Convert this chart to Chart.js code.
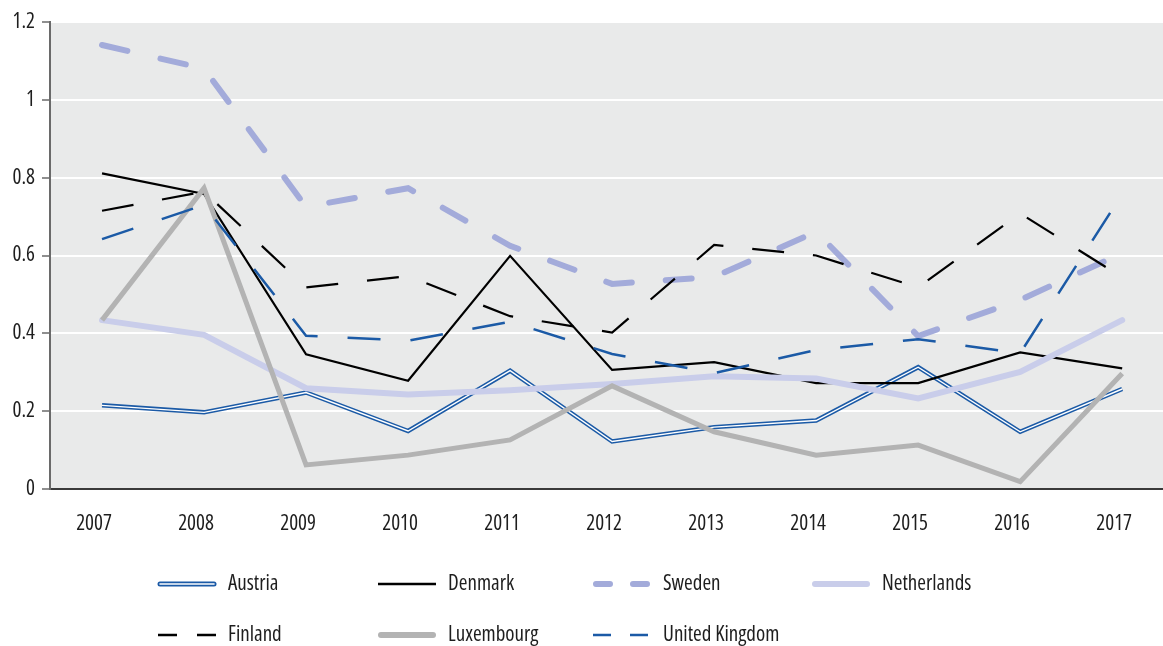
<!DOCTYPE html>
<html>
<head>
<meta charset="utf-8">
<script src="https://cdn.jsdelivr.net/npm/chart.js@4/dist/chart.umd.min.js"></script>
<style>
  html, body { margin: 0; padding: 0; background: #ffffff; }
  #chart { display: block; }
</style>
</head>
<body>
<canvas id="chart" width="1163" height="646"></canvas>
<script>
// Years on the horizontal axis
const years = [2007, 2008, 2009, 2010, 2011, 2012, 2013, 2014, 2015, 2016, 2017];

// Values per country
const austria     = [0.215, 0.197, 0.248, 0.149, 0.304, 0.122, 0.159, 0.176, 0.313, 0.147, 0.257];
const denmark     = [0.811, 0.758, 0.346, 0.278, 0.599, 0.306, 0.326, 0.272, 0.272, 0.351, 0.310];
const sweden      = [1.141, 1.080, 0.725, 0.773, 0.625, 0.527, 0.545, 0.661, 0.393, 0.486, 0.606];
const netherlands = [0.434, 0.396, 0.259, 0.243, 0.254, 0.270, 0.290, 0.284, 0.233, 0.301, 0.434];
const finland     = [0.715, 0.764, 0.518, 0.547, 0.444, 0.402, 0.627, 0.600, 0.518, 0.708, 0.544];
const luxembourg  = [0.434, 0.773, 0.062, 0.087, 0.126, 0.265, 0.147, 0.087, 0.113, 0.019, 0.297];
const unitedKingdom = [0.642, 0.730, 0.394, 0.381, 0.430, 0.347, 0.298, 0.357, 0.385, 0.349, 0.758];

// Value axis ticks
const yTicks = [0, 0.2, 0.4, 0.6, 0.8, 1.0, 1.2];

// Pick the narrowest installed sans face for the condensed lettering
const probe = document.createElement('canvas').getContext('2d');
function textWidth(font, s) { probe.font = font; return probe.measureText(s).width; }
const SAMPLE = 'United Kingdom 2007';
function installed(fam) {
  const s = 'mmmWWiil0123 United';
  return textWidth('40px monospace', s) !== textWidth('40px ' + fam + ', monospace', s) ||
         textWidth('40px serif', s) !== textWidth('40px ' + fam + ', serif', s);
}
const candidates = [
  { fam: "'Liberation Sans Narrow'", st: '' },
  { fam: "'Roboto Condensed'", st: '' },
  { fam: "'Noto Sans'", st: 'extra-condensed' },
  { fam: "'Noto Sans'", st: 'condensed' },
  { fam: "'Open Sans'", st: 'condensed' },
  { fam: "'Roboto'", st: 'condensed' },
  { fam: "'DejaVu Sans'", st: 'condensed' },
  { fam: "'DejaVu Sans Condensed'", st: '' }
];
let best = null;
candidates.forEach(c => {
  if (!installed(c.fam)) return;
  const plain = textWidth('20px ' + c.fam, SAMPLE);
  const w = textWidth('normal ' + (c.st || 'normal') + ' 20px ' + c.fam, SAMPLE);
  if (c.st && w > plain * 0.97) return;
  if (!best || w < best.w - 0.5) best = { ...c, w };
});
if (!best) best = { fam: 'sans-serif', st: '', w: textWidth('20px sans-serif', SAMPLE) };
const FONT_FAMILY = best.fam + ', sans-serif';
const FONT_WEIGHT = best.st || 'normal';
// "United Kingdom 2007" is about 163px wide in the target lettering
const FONT_SIZE = Math.max(17, Math.min(21, Math.round(20 * 163 / best.w * 2) / 2));
const FONT_STR = 'normal ' + FONT_WEIGHT + ' ' + FONT_SIZE + 'px ' + FONT_FAMILY;
const TEXT = '#1e1e1e';

const pts = arr => years.map((y, i) => ({ x: y, y: arr[i] }));

const BLUE = '#1b5aa6';
const SWEDEN_C = '#a3abda';
const NETH_C = '#c9cdea';
const LUX_C = '#b3b3b3';

// Series: later entries are drawn on top (lower order value)
const datasets = [
  { label: 'Austria', data: pts(austria), borderColor: BLUE, borderWidth: 4.5,
    order: 0, legend: { kind: 'double', col: 0, row: 0 } },
  { label: 'Austria-inner', data: pts(austria), borderColor: '#ffffff', borderWidth: 1.4,
    order: -0.5, legend: null },
  { label: 'Denmark', data: pts(denmark), borderColor: '#000000', borderWidth: 2.2,
    order: -1, legend: { kind: 'solid', col: 1, row: 0, width: 2.5 } },
  { label: 'Sweden', data: pts(sweden), borderColor: SWEDEN_C, borderWidth: 6,
    borderDash: [26, 34], borderCapStyle: 'round',
    order: -2, legend: { kind: 'dash', col: 2, row: 0, width: 6, dash: [14, 23], cap: 'round', inset: 3 } },
  { label: 'Netherlands', data: pts(netherlands), borderColor: NETH_C, borderWidth: 6,
    borderCapStyle: 'round',
    order: -3, legend: { kind: 'solid', col: 3, row: 0, width: 6, cap: 'round', inset: 3 } },
  { label: 'Finland', data: pts(finland), borderColor: '#000000', borderWidth: 2.2,
    borderDash: [32, 29],
    order: -4, legend: { kind: 'dash', col: 0, row: 1, width: 2.5, dash: [19, 20] } },
  { label: 'Luxembourg', data: pts(luxembourg), borderColor: LUX_C, borderWidth: 5,
    order: -5, legend: { kind: 'solid', col: 1, row: 1, width: 6, cap: 'round', inset: 3 } },
  { label: 'United Kingdom', data: pts(unitedKingdom), borderColor: BLUE, borderWidth: 2.5,
    borderDash: [33, 30],
    order: -6, legend: { kind: 'dash', col: 2, row: 1, width: 2.5, dash: [18, 19] } }
];

// Fills the plotting area with the light grey panel
const panelBackground = {
  id: 'panelBackground',
  beforeDraw(chart) {
    const { ctx, chartArea: a } = chart;
    ctx.save();
    ctx.fillStyle = '#e9eaea';
    ctx.fillRect(a.left, a.top, a.right - a.left, a.bottom - a.top);
    ctx.restore();
  }
};

// Fixed-grid legend under the chart
const gridLegend = {
  id: 'gridLegend',
  afterDraw(chart) {
    const { ctx } = chart;
    const colX = [158, 378, 593, 812];
    const rowY = [584, 635];
    const sampleW = 58;
    ctx.save();
    chart.data.datasets.forEach(ds => {
      const lg = ds.legend;
      if (!lg) return;
      const x0 = colX[lg.col];
      const y = rowY[lg.row];
      const inset = lg.inset || 0;
      ctx.setLineDash([]);
      if (lg.kind === 'double') {
        ctx.lineCap = 'round';
        ctx.strokeStyle = ds.borderColor;
        ctx.lineWidth = 5;
        ctx.beginPath(); ctx.moveTo(x0 + 2, y); ctx.lineTo(x0 + sampleW - 2, y); ctx.stroke();
        ctx.strokeStyle = '#ffffff';
        ctx.lineWidth = 1.6;
        ctx.beginPath(); ctx.moveTo(x0 + 2, y); ctx.lineTo(x0 + sampleW - 2, y); ctx.stroke();
      } else {
        ctx.lineCap = lg.cap || 'butt';
        ctx.strokeStyle = ds.borderColor;
        ctx.lineWidth = lg.width;
        if (lg.kind === 'dash') ctx.setLineDash(lg.dash);
        ctx.beginPath();
        ctx.moveTo(x0 + inset, y);
        ctx.lineTo(x0 + sampleW - inset, y);
        ctx.stroke();
      }
      ctx.setLineDash([]);
      ctx.fillStyle = TEXT;
      ctx.font = FONT_STR;
      ctx.textAlign = 'left';
      ctx.textBaseline = 'middle';
      ctx.fillText(ds.label, x0 + 70, y);
    });
    ctx.restore();
  }
};

const tickFont = { family: FONT_FAMILY, size: FONT_SIZE, weight: FONT_WEIGHT, style: 'normal' };

new Chart(document.getElementById('chart'), {
  type: 'line',
  data: { datasets },
  options: {
    responsive: false,
    devicePixelRatio: 1,
    animation: false,
    layout: { padding: { top: 22, right: 0, bottom: 116, left: 0 } },
    elements: {
      point: { radius: 0, hoverRadius: 0 },
      line: { tension: 0, fill: false, borderJoinStyle: 'miter' }
    },
    plugins: {
      legend: { display: false },
      tooltip: { enabled: false },
      title: { display: false }
    },
    scales: {
      x: {
        type: 'linear',
        min: 2006.49,
        max: 2017.4,
        afterBuildTicks(scale) { scale.ticks = years.map(v => ({ value: v })); },
        afterFit(scale) { scale.height = 41; },
        grid: { display: false },
        border: { display: true, color: '#3a3a3a', width: 2 },
        ticks: {
          padding: 14,
          labelOffset: -8,
          maxRotation: 0,
          autoSkip: false,
          color: TEXT,
          font: tickFont,
          callback: v => String(v)
        }
      },
      y: {
        min: 0,
        max: 1.2,
        afterBuildTicks(scale) { scale.ticks = yTicks.map(v => ({ value: v })); },
        afterFit(scale) { scale.width = 50; },
        grid: {
          color: ctx => (ctx.tick && ctx.tick.value === 0) ? 'rgba(0,0,0,0)' : '#ffffff',
          lineWidth: 2,
          drawTicks: true,
          tickLength: 8,
          tickColor: '#6a6a6a',
          tickWidth: 1.5
        },
        border: { display: true, color: '#6a6a6a', width: 2 },
        ticks: {
          padding: 7,
          color: TEXT,
          font: tickFont,
          callback: v => String(+Number(v).toFixed(1))
        }
      }
    }
  },
  plugins: [panelBackground, gridLegend]
});
</script>
</body>
</html>
